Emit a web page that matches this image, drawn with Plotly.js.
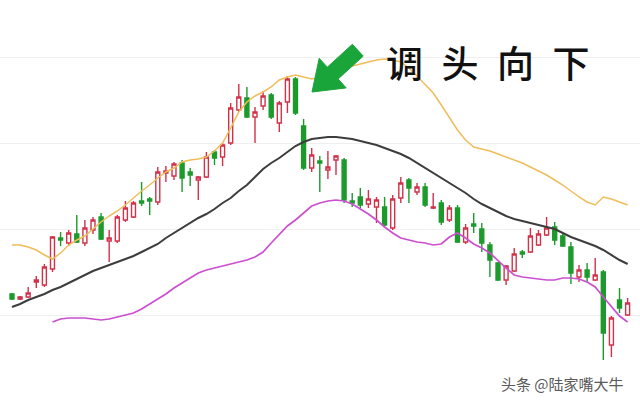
<!DOCTYPE html>
<html>
<head>
<meta charset="utf-8">
<script src="https://cdn.plot.ly/plotly-3.0.1.min.js"></script>
<style>html,body{margin:0;padding:0;background:#fff}#chart{width:640px;height:402px}</style>
</head>
<body>
<div id="chart"></div>
<script>
// OHLC values per trading day
const openP  = [20.6,20.1,20.3,21.8,21.5,23.1,26.2,25.7,26.6,25.7,27.0,28.3,25.9,25.9,28.0,28.3,29.9,30.1,29.8,32.7,32.4,33.7,32.8,32.0,32.3,34.8,34.3,35.7,39.0,40.2,38.3,39.4,40.5,37.7,39.8,42.1,37.4,33.2,33.9,33.0,34.0,34.0,29.9,30.3,29.6,29.3,29.3,27.2,30.2,32.0,30.8,31.3,29.2,29.7,28.0,29.2,25.8,27.6,27.1,25.5,23.7,22.0,22.9,24.8,24.8,25.5,26.5,27.3,26.4,25.3,22.3,23.0,22.0,22.8,15.5,20.0,18.5];
const highP  = [20.7,20.4,21.3,22.4,23.6,26.4,26.8,27.0,28.5,28.0,28.3,28.7,27.0,28.5,29.9,29.9,31.8,30.3,33.3,33.4,33.8,34.0,33.2,32.4,34.8,35.0,35.7,39.7,41.6,41.3,39.3,40.9,40.7,39.9,42.4,42.3,38.1,35.2,34.4,34.9,34.5,34.2,30.7,31.2,31.0,30.3,30.3,30.5,32.3,32.2,31.7,31.7,30.7,30.0,29.5,29.5,27.6,28.7,27.7,25.8,23.8,23.5,25.2,25.0,27.2,27.0,28.3,27.8,26.6,25.8,23.5,23.7,24.2,23.0,18.4,21.2,20.2];
const lowP   = [20.0,20.0,20.2,21.2,21.3,22.8,25.4,25.4,25.7,25.4,26.6,26.0,23.8,25.7,27.8,28.2,29.4,28.5,29.5,31.8,32.0,30.8,31.4,30.0,32.2,33.5,33.4,35.5,38.8,38.2,35.7,39.0,38.1,36.8,38.7,38.5,33.0,32.8,30.8,32.1,32.5,29.7,29.3,29.2,29.2,27.7,27.4,27.0,29.7,29.7,30.5,29.3,29.1,27.5,27.8,25.7,25.6,26.7,24.8,22.3,21.9,21.5,22.8,24.2,24.7,25.4,26.4,25.5,25.3,21.6,21.8,21.8,21.9,14.0,14.3,18.7,18.4];
const closeP = [20.1,20.3,20.7,22.0,23.3,26.3,26.0,26.7,25.8,27.2,28.0,26.1,26.2,28.3,29.2,29.7,29.7,29.9,32.8,32.9,33.6,32.2,32.5,32.3,34.3,34.2,35.5,39.2,40.3,38.3,38.8,40.4,38.3,39.7,42.1,38.7,33.2,34.5,33.7,33.3,34.4,30.0,29.7,29.5,30.1,30.0,27.5,30.1,31.7,31.2,31.3,29.5,29.3,27.8,29.2,25.8,27.2,27.4,25.7,24.0,22.0,23.4,24.6,24.6,26.4,26.6,27.2,26.0,25.4,22.7,23.0,22.3,22.5,16.7,18.2,19.2,19.7];
// moving average lines
const maShort = [25.5,25.5,25.3,25.0,24.5,24.1,24.7,25.5,26.0,26.4,27.1,27.8,28.4,28.9,29.5,30.2,30.9,31.5,32.2,32.8,33.2,33.8,34.0,34.1,34.3,34.9,35.7,37.2,38.8,39.8,40.4,40.8,41.3,42.0,42.3,42.5,42.3,42.1,42.3,42.5,42.8,43.1,43.4,43.6,43.8,44.0,44.1,44.0,43.8,43.2,42.4,41.6,40.7,39.5,38.2,37.0,36.0,35.3,35.1,34.9,34.6,34.3,34.0,33.7,33.3,32.9,32.5,32.0,31.5,30.9,30.3,29.8,29.5,30.3,30.1,29.8,29.5];
const maMid   = [19.3,19.6,20.0,20.3,20.6,21.0,21.3,21.7,22.1,22.5,22.9,23.2,23.5,23.8,24.1,24.4,24.8,25.2,25.6,26.2,26.7,27.2,27.7,28.2,28.6,29.1,29.7,30.2,30.9,31.5,32.3,33.1,33.7,34.2,34.8,35.4,35.8,36.1,36.2,36.3,36.3,36.2,36.1,35.9,35.7,35.5,35.2,34.9,34.6,34.2,33.7,33.2,32.7,32.2,31.7,31.2,30.7,30.1,29.6,29.2,28.8,28.4,28.1,27.9,27.7,27.5,27.3,27.1,26.7,26.3,26.0,25.7,25.4,25.0,24.5,24.0,23.6];
const maLong  = [null,null,null,null,null,17.8,18.1,18.2,18.2,18.2,18.1,18.0,18.1,18.3,18.5,18.7,19.1,19.6,20.1,20.6,21.2,21.7,22.2,22.7,23.0,23.2,23.4,23.6,23.8,24.0,24.3,24.8,25.7,26.6,27.4,28.0,28.7,29.4,29.7,29.9,30.0,29.9,29.6,29.1,28.6,28.0,27.3,26.7,26.2,26.0,25.8,25.7,25.5,25.6,26.3,26.7,26.2,25.6,25.2,24.7,23.9,23.2,22.5,22.3,22.2,22.1,22.0,22.0,22.2,22.2,22.1,21.8,21.3,20.3,19.3,18.4,17.8];
const gridVals = [18.5, 27.1, 35.7, 44.3];
const calloutText = "调\u2002头\u2002向\u2002下";
const watermark = "头条 @陆家嘴大牛";

const days = openP.map((_, i) => i);

const traces = [
  {
    type: 'candlestick', x: days, open: openP, high: highP, low: lowP, close: closeP,
    increasing: {line: {color: '#d2314a', width: 1.4}, fillcolor: '#ffffff'},
    decreasing: {line: {color: '#1c9a2c', width: 1.4}, fillcolor: '#1c9a2c'},
    whiskerwidth: 0, hoverinfo: 'skip'
  },
  {type: 'scatter', mode: 'lines', x: days, y: maShort, line: {color: '#f0bd5a', width: 1.5}, hoverinfo: 'skip'},
  {type: 'scatter', mode: 'lines', x: days, y: maMid, line: {color: '#3d3d3d', width: 2}, hoverinfo: 'skip'},
  {type: 'scatter', mode: 'lines', x: days, y: maLong, line: {color: '#cc4fd0', width: 1.7}, hoverinfo: 'skip', connectgaps: false}
];

const layout = {
  width: 640, height: 402,
  margin: {l: 0, r: 0, t: 0, b: 0, pad: 0},
  paper_bgcolor: '#ffffff', plot_bgcolor: '#ffffff',
  showlegend: false,
  boxgap: 0.3,
  xaxis: {range: [-1.48, 77.53], showgrid: false, zeroline: false, showticklabels: false, ticks: '', showline: false, rangeslider: {visible: false}, fixedrange: true},
  yaxis: {range: [9.8, 50], tickvals: gridVals, showgrid: true, gridcolor: '#efefef', gridwidth: 1, zeroline: false, showticklabels: false, ticks: '', showline: false, fixedrange: true},
  shapes: [
    {type: 'path', xref: 'paper', yref: 'paper',
     path: 'M 0.4875 0.7711 L 0.49875 0.8550 L 0.5114 0.8328 L 0.5506 0.8898 L 0.5675 0.8604 L 0.5283 0.8035 L 0.5409 0.7813 Z',
     fillcolor: '#1aa53a', line: {color: '#1aa53a', width: 1}}
  ],
  annotations: [
    {xref: 'paper', yref: 'paper', x: 0.7625, y: 0.845, xanchor: 'center', yanchor: 'middle', showarrow: false,
     text: calloutText, font: {family: 'Noto Sans CJK SC', size: 37, color: '#111111', weight: 500}},
    {xref: 'paper', yref: 'paper', x: 0.978, y: 0.047, xanchor: 'right', yanchor: 'middle', showarrow: false,
     text: watermark, font: {family: 'Noto Sans CJK SC', size: 15, color: '#5a5a5a'}}
  ]
};

Plotly.newPlot('chart', traces, layout, {displayModeBar: false, staticPlot: true});
</script>
</body>
</html>
